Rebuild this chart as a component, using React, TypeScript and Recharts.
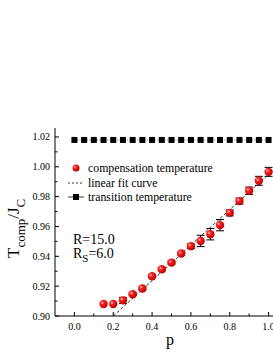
import React from 'react';
import {
  ComposedChart,
  Scatter,
  XAxis,
  YAxis,
  ErrorBar,
  Legend,
} from 'recharts';

const pComp = [0.15, 0.2, 0.25, 0.3, 0.35, 0.4, 0.45, 0.5, 0.55, 0.6, 0.65, 0.7, 0.75, 0.8, 0.85, 0.9, 0.95, 1.0];
const tComp = [0.908, 0.908, 0.9105, 0.9146, 0.9184, 0.9266, 0.9313, 0.9358, 0.9419, 0.9468, 0.9503, 0.9548, 0.9609, 0.9691, 0.977, 0.9839, 0.9906, 0.9966];
const errComp = [0, 0, 0.002, 0.001, 0.001, 0.001, 0.001, 0.001, 0.001, 0.0015, 0.0038, 0.0038, 0.0038, 0.002, 0.002, 0.0025, 0.003, 0.003];

const pTrans = [0, 0.05, 0.1, 0.15, 0.2, 0.25, 0.3, 0.35, 0.4, 0.45, 0.5, 0.55, 0.6, 0.65, 0.7, 0.75, 0.8, 0.85, 0.9, 0.95, 1.0];
const tTrans = [1.018, 1.018, 1.018, 1.018, 1.018, 1.018, 1.018, 1.018, 1.018, 1.018, 1.018, 1.018, 1.018, 1.018, 1.018, 1.018, 1.018, 1.018, 1.018, 1.018, 1.018];

const pFit = [0.2, 1.0];
const tFit = [0.9, 0.995];

const xTicks = [0, 0.1, 0.2, 0.3, 0.4, 0.5, 0.6, 0.7, 0.8, 0.9, 1.0, 1.1];
const yTicks = [0.9, 0.91, 0.92, 0.93, 0.94, 0.95, 0.96, 0.97, 0.98, 0.99, 1.0, 1.01, 1.02];

const compData = pComp.map((p, i) => ({ p, t: tComp[i], err: errComp[i] }));
const transData = pTrans.map((p, i) => ({ p, t: tTrans[i] }));
const fitData = pFit.map((p, i) => ({ p, t: tFit[i] }));

const FONT = '"Liberation Serif", "Times New Roman", serif';

const Ball = (props: any) => {
  const { cx, cy } = props;
  if (cx == null || cy == null) return <g />;
  return <circle cx={cx} cy={cy} r={4.2} fill="url(#ballGrad)" />;
};

const Square = (props: any) => {
  const { cx, cy } = props;
  if (cx == null || cy == null) return <g />;
  return <rect x={cx - 3} y={cy - 3} width={6} height={6} fill="#000" />;
};

const NoDot = () => <g />;

const XTickBottom = (props: any) => {
  const { x, y, payload } = props;
  const v = payload.value;
  const major = Math.round(v * 10) % 2 === 0;
  return (
    <g>
      <line x1={x} x2={x} y1={y} y2={y - (major ? 4 : 2.5)} stroke="#000" strokeWidth={1} />
      {major && (
        <text x={x} y={y + 14} textAnchor="middle" fontSize={10} fontFamily={FONT} fill="#000">
          {v.toFixed(1)}
        </text>
      )}
    </g>
  );
};

const XTickTop = (props: any) => {
  const { x, y, payload } = props;
  const major = Math.round(payload.value * 10) % 2 === 0;
  return <line x1={x} x2={x} y1={y} y2={y + (major ? 4 : 2.5)} stroke="#000" strokeWidth={1} />;
};

const YTick = (props: any) => {
  const { x, y, payload } = props;
  const v = payload.value;
  const major = Math.round(v * 100) % 2 === 0;
  return (
    <g>
      <line x1={x} x2={x + (major ? 4 : 2.5)} y1={y} y2={y} stroke="#000" strokeWidth={1} />
      {major && (
        <text x={x - 5} y={y + 3.5} textAnchor="end" fontSize={10} fontFamily={FONT} fill="#000">
          {v.toFixed(2)}
        </text>
      )}
    </g>
  );
};

const LegendBox = () => (
  <div style={{ fontFamily: FONT, fontSize: 11.8, color: '#000', lineHeight: '14.5px' }}>
    <div style={{ display: 'flex', alignItems: 'center' }}>
      <svg width={20} height={10}>
        <circle cx={8} cy={5} r={3.5} fill="url(#ballGrad)" />
      </svg>
      <span>compensation temperature</span>
    </div>
    <div style={{ display: 'flex', alignItems: 'center' }}>
      <svg width={20} height={10}>
        <line x1={0} x2={16} y1={5} y2={5} stroke="#000" strokeWidth={0.8} strokeDasharray="2 2" />
      </svg>
      <span>linear fit curve</span>
    </div>
    <div style={{ display: 'flex', alignItems: 'center' }}>
      <svg width={20} height={10}>
        <line x1={0} x2={16} y1={5} y2={5} stroke="#000" strokeWidth={0.8} />
        <rect x={5} y={2} width={6} height={6} fill="#000" />
      </svg>
      <span>transition temperature</span>
    </div>
  </div>
);

export default function App() {
  return (
    <div style={{ position: 'fixed', left: 0, top: 0, width: 273, height: 353, overflow: 'hidden', background: '#fff' }}>
      <svg width={0} height={0} style={{ position: 'absolute' }}>
        <defs>
          <radialGradient id="ballGrad" cx="35%" cy="35%" r="70%">
            <stop offset="0%" stopColor="#ffd0d0" />
            <stop offset="30%" stopColor="#ff2020" />
            <stop offset="100%" stopColor="#b00000" />
          </radialGradient>
        </defs>
      </svg>
      <ComposedChart
        width={290}
        height={353}
        margin={{ top: 128, right: 2, bottom: 7, left: 0 }}
      >
        <XAxis
          dataKey="p"
          type="number"
          domain={[-0.1, 1.1]}
          ticks={xTicks}
          interval={0}
          tick={<XTickBottom />}
          tickLine={false}
          tickSize={0}
          tickMargin={0}
          height={30}
          axisLine={{ stroke: '#000', strokeWidth: 1 }}
          allowDataOverflow
        />
        <XAxis
          xAxisId="top"
          orientation="top"
          dataKey="p"
          type="number"
          domain={[-0.1, 1.1]}
          ticks={xTicks}
          interval={0}
          tick={<XTickTop />}
          tickLine={false}
          tickSize={0}
          tickMargin={0}
          height={0}
          axisLine={{ stroke: '#000', strokeWidth: 1 }}
          allowDataOverflow
        />
        <YAxis
          dataKey="t"
          type="number"
          domain={[0.9, 1.026]}
          ticks={yTicks}
          interval={0}
          tick={<YTick />}
          tickLine={false}
          tickSize={0}
          tickMargin={0}
          width={55}
          axisLine={{ stroke: '#000', strokeWidth: 1 }}
          allowDataOverflow
        />
        <Legend
          layout="vertical"
          align="center"
          verticalAlign="middle"
          content={<LegendBox />}
          wrapperStyle={{ position: 'absolute', left: 68, top: 161, width: 205 }}
        />
        <Scatter
          data={fitData}
          dataKey="t"
          line={{ stroke: '#000', strokeWidth: 0.8, strokeDasharray: '3 2' }}
          shape={<NoDot />}
          isAnimationActive={false}
        />
        <Scatter
          data={transData}
          dataKey="t"
          line={{ stroke: '#555', strokeWidth: 0.8, strokeDasharray: '1 1.5' }}
          shape={<Square />}
          isAnimationActive={false}
        />
        <Scatter data={compData} dataKey="t" shape={<Ball />} isAnimationActive={false}>
          <ErrorBar dataKey="err" direction="y" width={4} stroke="#000" strokeWidth={1} />
        </Scatter>
      </ComposedChart>
      <svg width={273} height={353} style={{ position: 'absolute', left: 0, top: 0, pointerEvents: 'none' }}>
        <text
          transform="translate(19, 258) rotate(-90)"
          fontFamily={FONT}
          fontSize={17}
          fill="#000"
        >
          T
          <tspan fontSize={13} dy={6}>comp</tspan>
          <tspan dy={-6}>/J</tspan>
          <tspan fontSize={13} dy={6}>C</tspan>
        </text>
        <text x={73} y={244} fontFamily={FONT} fontSize={14} fill="#000">R=15.0</text>
        <text x={73} y={258} fontFamily={FONT} fontSize={14} fill="#000">
          R<tspan fontSize={11} dy={4}>S</tspan>
          <tspan dy={-4}>=6.0</tspan>
        </text>
        <text x={170} y={345} textAnchor="middle" fontFamily={FONT} fontSize={16} fill="#000">p</text>
      </svg>
    </div>
  );
}
